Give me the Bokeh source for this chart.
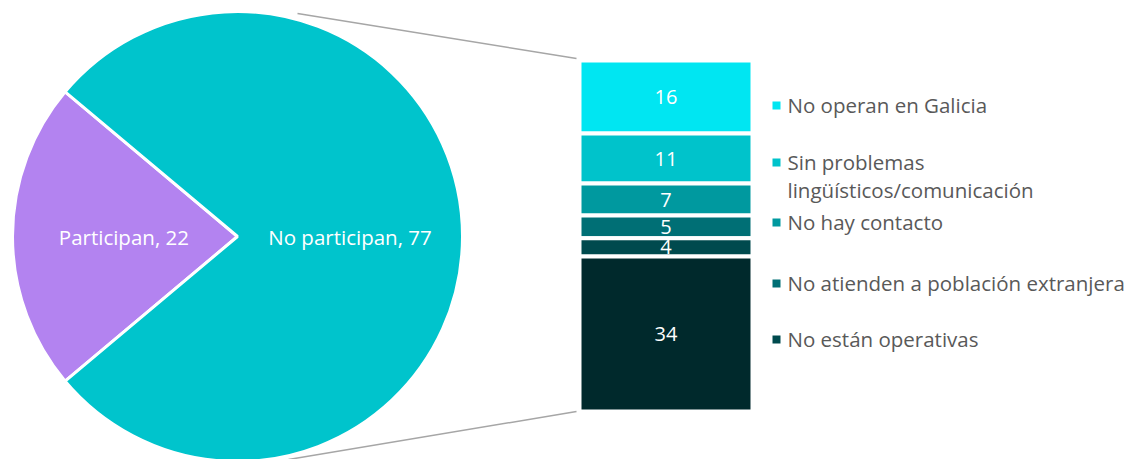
import math
from bokeh.plotting import figure
from bokeh.models import Range1d
from bokeh.core.properties import value
from bokeh.embed import file_html
from bokeh.resources import INLINE

# ---- data ----
pie_labels = ["Participan", "No participan"]
pie_values = [22, 77]
pie_colors = ["#B383F0", "#00C4CC"]

bar_values = [16, 11, 7, 5, 4, 34]
bar_colors = ["#00E6F2", "#00C3CB", "#00999F", "#006F75", "#004A4E", "#00292C"]

legend_labels = ["No operan en Galicia",
                 "Sin problemas\nlingüísticos/comunicación",
                 "No hay contacto",
                 "No atienden a población extranjera",
                 "No están operativas"]
legend_colors = ["#00E6F2", "#00C3CB", "#00999F", "#006F75", "#004A4E"]

# ---- layout (screenshot pixel coordinates) ----
W, H = 1128, 459
def Y(py):
    return H - py

FONT = "Open Sans"
p = figure(width=W, height=H, output_backend="svg", toolbar_location=None,
           x_range=Range1d(0, W), y_range=Range1d(0, H),
           min_border=0, outline_line_color=None)
p.axis.visible = False
p.grid.visible = False
p.background_fill_color = "white"

# pie
cx, cy, r = 237, 236, 225
total = sum(pie_values)
span0 = pie_values[0] / total * 2 * math.pi
a0 = math.pi - span0 / 2
starts = [a0, a0 + span0]
ends = [a0 + span0, a0 + 2 * math.pi]
p.wedge(x=[cx] * 2, y=[Y(cy)] * 2, radius=r, start_angle=starts, end_angle=ends,
        fill_color=pie_colors, line_color="white", line_width=3)

mids = [(s + e) / 2 for s, e in zip(starts, ends)]
lab_r = [r * 0.505, r * 0.50]
px = [cx + lr * math.cos(m) for lr, m in zip(lab_r, mids)]
py = [Y(cy) + lr * math.sin(m) for lr, m in zip(lab_r, mids)]
p.text(x=px, y=py, text=[f"{l}, {v}" for l, v in zip(pie_labels, pie_values)],
       text_align="center", text_baseline="middle", text_color="white",
       text_font=value(FONT), text_font_size="20.5px")

# connector lines
bx0, bx1, btop, bbot = 579, 752, 60, 411
p.line(x=[297, bx0 - 3], y=[Y(13), Y(btop - 2)], line_color="#A6A6A6", line_width=1.5)
p.line(x=[288, bx0 - 3], y=[Y(459), Y(bbot)], line_color="#A6A6A6", line_width=1.5)

# stacked bar
scale = (bbot - btop) / sum(bar_values)
tops, bots = [], []
acc = 0
for v in bar_values:
    tops.append(Y(btop + acc * scale))
    acc += v
    bots.append(Y(btop + acc * scale))
p.quad(left=bx0, right=bx1, top=tops, bottom=bots, fill_color=bar_colors,
       line_color="white", line_width=4)
p.text(x=[(bx0 + bx1) / 2] * len(bar_values), y=[(t + b) / 2 for t, b in zip(tops, bots)],
       text=[str(v) for v in bar_values], text_align="center", text_baseline="middle",
       text_color="white", text_font=value(FONT), text_font_size="20px")

# legend
leg_y = [105, 162, 222, 283, 339]
line_gap = 28
p.scatter(x=[776] * 5, y=[Y(v) for v in leg_y], marker="square", size=8,
          fill_color=legend_colors, line_color=None)
lx, ly, lt = [], [], []
for lab, yy in zip(legend_labels, leg_y):
    for i, part in enumerate(lab.split("\n")):
        lx.append(787)
        ly.append(Y(yy + i * line_gap) + 1)
        lt.append(part)
p.text(x=lx, y=ly, text=lt, text_align="left", text_baseline="middle",
       text_color="#595959", text_font=value(FONT), text_font_size="20.5px")

open("out.html", "w").write(file_html(p, INLINE))
